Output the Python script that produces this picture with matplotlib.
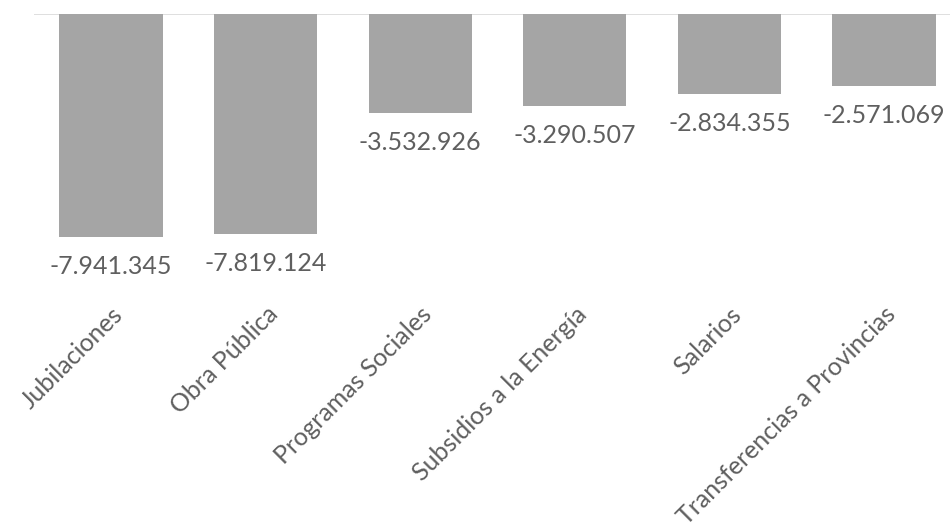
import matplotlib
matplotlib.use("Agg")
import matplotlib.pyplot as plt

categories = ["Jubilaciones", "Obra Pública", "Programas Sociales",
              "Subsidios a la Energía", "Salarios", "Transferencias a Provincias"]
values = [-7941345, -7819124, -3532926, -3290507, -2834355, -2571069]

plt.rcParams['font.family'] = ['Lato', 'DejaVu Sans']

W, H = 950, 522
fig = plt.figure(figsize=(W / 100, H / 100), dpi=100)
left_px, right_px = 33.7, 961.3
top_px, bottom_px = 14, 290
ax = fig.add_axes([left_px / W, 1 - bottom_px / H, (right_px - left_px) / W, (bottom_px - top_px) / H])

x = list(range(len(categories)))
bars = ax.bar(x, values, width=0.667, color='#a5a5a5', zorder=2)
ax.axhline(0, color='#d9d9d9', lw=1.2, zorder=1)
ax.set_xlim(-0.5, len(categories) - 0.5)
ax.set_ylim(-9.83e6, 0)

def fmt(v):
    s = f"{abs(v):,}".replace(",", ".")
    return ("-" if v < 0 else "") + s

ax.bar_label(bars, labels=[fmt(v) for v in values], padding=13,
             fontsize=18, color='#5f5f5f', fontweight='normal')

ax.set_xticks(x)
ax.set_xticklabels(categories, rotation=45, ha='right', rotation_mode='anchor',
                   fontsize=18, color='#5f5f5f')
ax.tick_params(axis='x', length=0, pad=9)
ax.set_yticks([])
for s in ax.spines.values():
    s.set_visible(False)

fig.savefig("out.png", dpi=100)
